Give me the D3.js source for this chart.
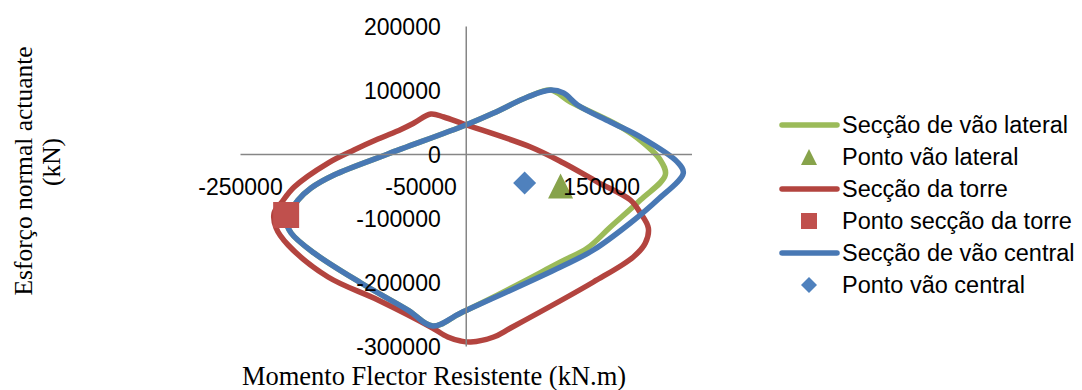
<!DOCTYPE html>
<html>
<head>
<meta charset="utf-8">
<script src="https://cdn.jsdelivr.net/npm/d3@7"></script>
<style>
  body { margin: 0; background: #fff; }
  svg { display: block; }
  .tick text { font-family: "Liberation Sans", Arial, sans-serif; font-size: 23px; fill: #000; }
  .leg text { font-family: "Liberation Sans", Arial, sans-serif; font-size: 23.5px; fill: #000; }
  .title { font-family: "Liberation Serif", "Times New Roman", serif; fill: #000; }
</style>
</head>
<body>
<svg class="root"></svg>
<script>
// interaction curves (M in kN.m, N in kN)
var lateralM = [93900, 116000, 168000, 190100, 215500, 221000, 193400, 160200, 134800, 105000, 30900, -5500, -36500,
  -64100, -116000, -168000, -193400, -198900, -185600, -171300, -145900, -86200, 0, 30900, 68500];
var lateralN = [100000, 81300, 45300, 25000, -9400, -32800, -71900, -114100, -146900, -168800, -223400, -248400, -268800,
  -243800, -201600, -154700, -123400, -103100, -71900, -53100, -32800, 0, 45300, 64000, 89000];

var torreM = [-38700, -24300, -2200, 71800, 108300, 145900, 182300, 193400, 202200, 198900, 185600, 141400, 49700, 30900, 5500,
  -5500, -19900, -38700, -97200, -152500, -196700, -210000, -212200, -204400, -190000, -152500, -123800, -97200, -71800, -57400];
var torreN = [62500, 57800, 46900, 10900, -14100, -43800, -71900, -92200, -115600, -139100, -160900, -200000, -271900, -285900, -293800,
  -292200, -285900, -270300, -228100, -192200, -142200, -115600, -92200, -76600, -51600, -14100, 6300, 23400, 38400, 48400];

var centralM = [93900, 108300, 123800, 160200, 193400, 234300, 240900, 212200, 182300, 141400, 105000, -5500, -36500,
  -64100, -116000, -168000, -193400, -198900, -185600, -171300, -145900, -86200, 0, 30900, 68500];
var centralN = [100000, 95300, 76600, 50000, 26600, -12500, -29700, -71900, -107800, -150000, -176600, -248400, -268800,
  -243800, -201600, -154700, -123400, -103100, -71900, -53100, -32800, 0, 45300, 64000, 89000];

// acting points
var pontoLateral = [105000, -50000];
var pontoTorre = [-198900, -95300];
var pontoCentral = [65200, -45300];

var xTicks = [-250000, -50000, 150000];
var yTicks = [200000, 100000, 0, -100000, -200000, -300000];

var legendNames = ["Secção de vão lateral", "Ponto vão lateral", "Secção da torre",
  "Ponto secção da torre", "Secção de vão central", "Ponto vão central"];

var width = 1082, height = 390;
var svg = d3.select(".root").attr("width", width).attr("height", height);

var x = d3.scaleLinear().domain([-250000, 250000]).range([240, 691.5]);
var y = d3.scaleLinear().domain([-300000, 200000]).range([346, 26]);

// custom markers (Excel style: triangle as wide as tall, square diamond)
var tri = { draw: function(ctx, s) { var r = Math.sqrt(s) / 2; ctx.moveTo(0, -r); ctx.lineTo(r, r); ctx.lineTo(-r, r); ctx.closePath(); } };
var dia = { draw: function(ctx, s) { var r = Math.sqrt(s) / 2; ctx.moveTo(0, -r); ctx.lineTo(r, 0); ctx.lineTo(0, r); ctx.lineTo(-r, 0); ctx.closePath(); } };
var sq = { draw: function(ctx, s) { var r = Math.sqrt(s) / 2; ctx.rect(-r, -r, 2 * r, 2 * r); } };

var series = [
  { type: "line", M: lateralM, N: lateralN, color: "#9BBB59" },
  { type: "point", p: pontoLateral, sym: tri, size: 25, color: "#87A34B" },
  { type: "line", M: torreM, N: torreN, color: "#B3443F" },
  { type: "point", p: pontoTorre, sym: sq, size: 26, color: "#C0504D" },
  { type: "line", M: centralM, N: centralN, color: "#4878B4" },
  { type: "point", p: pontoCentral, sym: dia, size: 23, color: "#4F81BD" }
];

var line = d3.line()
  .x(function(d) { return x(d[0]); })
  .y(function(d) { return y(d[1]); })
  .curve(d3.curveCatmullRomClosed.alpha(0.5));

var fmt = function(d) { return String(d); };   // plain hyphen minus, no grouping

// axes
var xAxis = d3.axisBottom(x).tickValues(xTicks).tickSize(0).tickSizeOuter(0).tickFormat(fmt);
var yAxis = d3.axisLeft(y).tickValues(yTicks).tickSize(0).tickSizeOuter(0).tickFormat(fmt);

var gx = svg.append("g").attr("transform", "translate(0," + y(0) + ")").call(xAxis);
var gy = svg.append("g").attr("transform", "translate(" + x(0) + ",0)").call(yAxis);
[gx, gy].forEach(function(g) {
  g.select(".domain").attr("stroke", "#868686").attr("stroke-width", 1.5);
});
gx.selectAll(".tick text").attr("y", 33).attr("dy", "0.35em");
gy.selectAll(".tick text").attr("x", -25).attr("dy", "0.35em");

// plot: lines first, markers on top
var plot = svg.append("g");
series.filter(function(s) { return s.type === "line"; }).forEach(function(s) {
  var pts = s.M.map(function(m, i) { return [m, s.N[i]]; });
  plot.append("path").datum(pts)
    .attr("d", line)
    .attr("fill", "none")
    .attr("stroke", s.color)
    .attr("stroke-width", 5.5)
    .attr("stroke-linejoin", "round");
});
series.filter(function(s) { return s.type === "point"; }).forEach(function(s) {
  plot.append("path")
    .attr("d", d3.symbol().type(s.sym).size(s.size * s.size))
    .attr("transform", "translate(" + x(s.p[0]) + "," + y(s.p[1]) + ")")
    .attr("fill", s.color);
});

// tick labels on top of marks
gx.raise();
gy.raise();

// legend
var leg = svg.append("g").attr("class", "leg").attr("transform", "translate(782,125)");
series.forEach(function(s, i) {
  var row = leg.append("g").attr("transform", "translate(0," + (i * 32) + ")");
  if (s.type === "line") {
    row.append("line").attr("x1", 0).attr("x2", 55).attr("y1", 0).attr("y2", 0)
      .attr("stroke", s.color).attr("stroke-width", 5.5).attr("stroke-linecap", "round");
  } else {
    row.append("path").attr("d", d3.symbol().type(s.sym).size(256))
      .attr("transform", "translate(27,0)").attr("fill", s.color);
  }
  row.append("text").attr("x", 60).attr("dy", "0.35em").text(legendNames[i]);
});

// axis titles
svg.append("text").attr("class", "title").style("font-size", "26.5px")
  .attr("x", 434).attr("y", 385).attr("text-anchor", "middle")
  .text("Momento Flector Resistente (kN.m)");
svg.append("text").attr("class", "title").style("font-size", "25.5px")
  .attr("transform", "translate(32,171) rotate(-90)").attr("text-anchor", "middle")
  .text("Esforço normal actuante");
svg.append("text").attr("class", "title").style("font-size", "25.5px")
  .attr("transform", "translate(60,162) rotate(-90)").attr("text-anchor", "middle")
  .text("(kN)");
</script>
</body>
</html>
